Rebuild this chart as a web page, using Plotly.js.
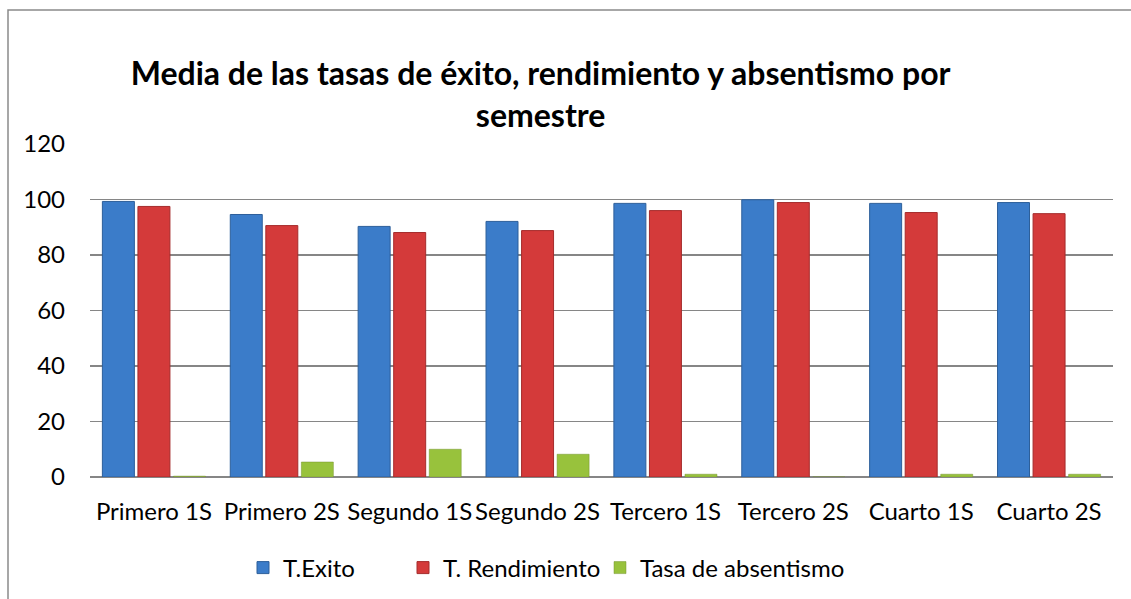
<!DOCTYPE html>
<html>
<head>
<meta charset="utf-8">
<script src="https://cdn.plot.ly/plotly-3.0.1.min.js"></script>
<style>
html,body{margin:0;padding:0;background:#fff;}
#chart{width:1131px;height:599px;}
</style>
</head>
<body>
<div id="chart"></div>
<script>
const categories = ["Primero 1S","Primero 2S","Segundo 1S","Segundo 2S","Tercero 1S","Tercero 2S","Cuarto 1S","Cuarto 2S"];
const tExito = [99.3, 94.6, 90.3, 92.1, 98.6, 99.9, 98.6, 98.9];
const tRendimiento = [97.5, 90.6, 88.1, 88.8, 96.0, 98.9, 95.3, 94.9];
const tAbsentismo = [0.3, 5.4, 10.0, 8.2, 1.0, 0, 1.0, 1.0];
const seriesNames = ["T.Exito","T. Rendimiento","Tasa de absentismo"];
const yTicks = [0,20,40,60,80,100,120];

const FONT = "Lato, 'Open Sans', sans-serif";

const traces = [
  {type:'bar', x:categories, y:tExito, name:seriesNames[0], legend:'legend',
   marker:{color:'#3b7cc9', line:{color:'#2d5f9a', width:1}}},
  {type:'bar', x:categories, y:tRendimiento, name:seriesNames[1], legend:'legend2',
   marker:{color:'#d43a3a', line:{color:'#a52c2c', width:1}}},
  {type:'bar', x:categories, y:tAbsentismo, name:seriesNames[2], legend:'legend3',
   marker:{color:'#98c23c', line:{color:'#74922e', width:0.5}}}
];

const L = 90, R = 18, T = 144, B = 122;
const W = 1131 - L - R, H = 599 - T - B;
const px2x = p => (p - L) / W;
const py2y = p => (599 - B - p) / H;

const legendCommon = {orientation:'h', yanchor:'middle', xanchor:'left',
  font:{family:FONT, size:24, color:'#000'}, bgcolor:'rgba(0,0,0,0)', itemwidth:30};

const layout = {
  width:1131, height:599,
  margin:{l:L, r:R, t:T, b:B, autoexpand:false},
  paper_bgcolor:'#fff', plot_bgcolor:'#fff',
  font:{family:FONT, color:'#000'},
  title:{text:'<b>Media de las tasas de éxito, rendimiento y absentismo por<br>semestre</b>',
    font:{family:FONT, size:32, color:'#000'}, x:0.478, xanchor:'center', y:0.858, yanchor:'middle'},
  barmode:'group', bargap:0.166, bargroupgap:0.1,
  xaxis:{type:'category', showgrid:false, zeroline:false, showline:false, ticks:'',
    tickfont:{family:FONT, size:24, color:'#000'}, ticklabelstandoff:18, automargin:false},
  yaxis:{range:[0,120], tickvals:yTicks, ticktext:yTicks.map(String), showgrid:true,
    gridcolor:'#868686', gridwidth:1.5, zeroline:true, zerolinecolor:'#868686', zerolinewidth:1.5,
    showline:false, ticks:'', tickfont:{family:FONT, size:24, color:'#000'}, ticklabelstandoff:24, automargin:false},
  showlegend:true,
  legend: Object.assign({}, legendCommon, {x:px2x(243), y:py2y(568)}),
  legend2: Object.assign({}, legendCommon, {x:px2x(403), y:py2y(568)}),
  legend3: Object.assign({}, legendCommon, {x:px2x(600), y:py2y(568)}),
  shapes:[{type:'rect', xref:'paper', yref:'paper', x0:px2x(8), x1:px2x(1300), y0:py2y(800), y1:py2y(10),
    line:{color:'#8a8a8a', width:1.5}, fillcolor:'rgba(0,0,0,0)', layer:'below'}]
};

Plotly.newPlot('chart', traces, layout, {displayModeBar:false, staticPlot:true});
</script>
</body>
</html>
